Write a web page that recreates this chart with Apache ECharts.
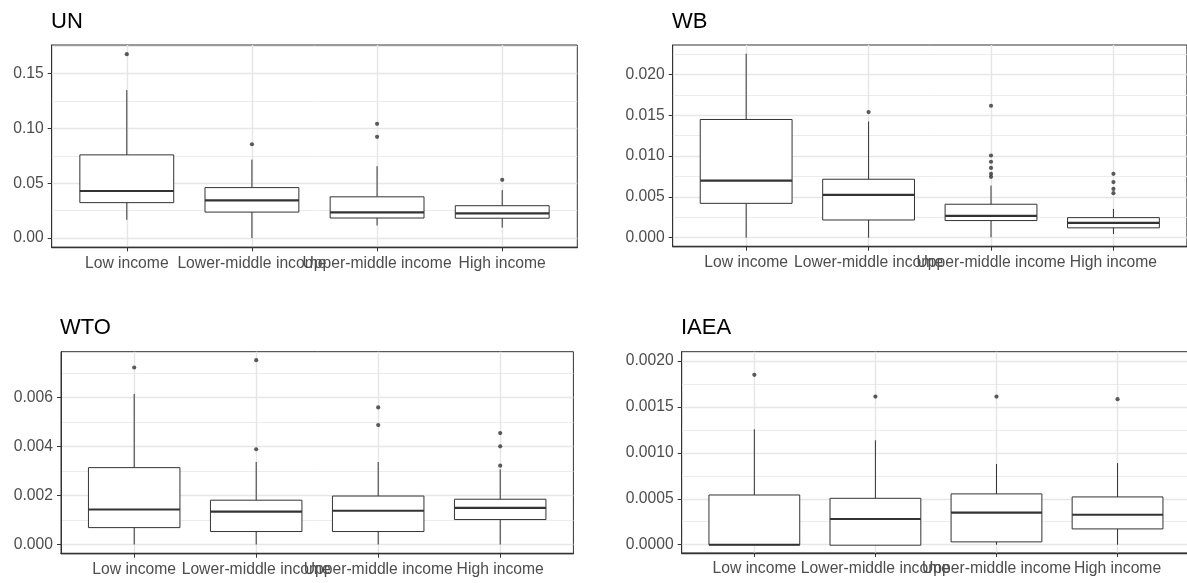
<!DOCTYPE html>
<html><head><meta charset="utf-8">
<script src="https://cdn.jsdelivr.net/npm/echarts@6/dist/echarts.min.js"></script>
<style>html,body{margin:0;padding:0;background:#fff}#c{width:1187px;height:583px}</style>
</head><body><div id="c"></div><script>
// ---------------- data ----------------
const categories = ['Low income', 'Lower-middle income', 'Upper-middle income', 'High income'];
const panelTitles = ['UN', 'WB', 'WTO', 'IAEA'];

// box statistics per category: [lower whisker, Q1, median, Q3, upper whisker]
const unStats = [
  [0.0167, 0.0323, 0.0429, 0.0758, 0.1348],
  [0.0000, 0.0237, 0.0344, 0.0460, 0.0715],
  [0.0115, 0.0183, 0.0235, 0.0376, 0.0655],
  [0.0095, 0.0181, 0.0225, 0.0295, 0.0437]
];
const unOutliers = [[0.1675], [0.0855], [0.1041, 0.0922], [0.0531]];

const wbStats = [
  [0.0000, 0.00421, 0.00700, 0.01448, 0.02254],
  [0.0000, 0.00217, 0.00524, 0.00716, 0.01423],
  [0.00005, 0.00210, 0.00268, 0.00410, 0.00638],
  [0.00045, 0.00121, 0.00182, 0.00246, 0.00353]
];
const wbOutliers = [[], [0.01538], [0.01616, 0.01007, 0.00930, 0.00855, 0.00783, 0.00746], [0.00783, 0.00682, 0.00598, 0.00545]];

const wtoStats = [
  [0.0000, 0.00069, 0.00143, 0.00314, 0.00615],
  [0.0000, 0.00053, 0.00134, 0.00181, 0.00337],
  [0.0000, 0.00053, 0.00138, 0.00198, 0.00337],
  [0.0000, 0.00102, 0.00150, 0.00185, 0.00307]
];
const wtoOutliers = [[0.00723], [0.00753, 0.00389], [0.00560, 0.00488], [0.00455, 0.00401, 0.00322]];

const iaeaStats = [
  [0.0000, 0.0000, 0.0000, 0.000541, 0.001256],
  [-0.000005, -0.000005, 0.000280, 0.000505, 0.001136],
  [0.0000, 0.000031, 0.000350, 0.000553, 0.000878],
  [0.0000, 0.000172, 0.000326, 0.000520, 0.000888]
];
const iaeaOutliers = [[0.001848], [0.001612], [0.001612], [0.001583]];

// y tick labels
const unTicks = [0, 0.05, 0.10, 0.15];
const wbTicks = [0, 0.005, 0.010, 0.015, 0.020];
const wtoTicks = [0, 0.002, 0.004, 0.006];
const iaeaTicks = [0, 0.0005, 0.0010, 0.0015, 0.0020];
const tickDecimals = [2, 3, 3, 4];
const tickSteps = [0.05, 0.005, 0.002, 0.0005];
// y axis limits (data range + 5% expansion)
const yLimits = [[-0.008375, 0.175875], [-0.0011, 0.0236], [-0.000375, 0.007875], [-0.00009, 0.0021]];

// ---------------- layout / style ----------------
const layouts = [
  {left: 51.7, top: 45, width: 525.6, height: 202.3, titleLeft: 51, titleTop: 11},
  {left: 672.7, top: 45, width: 514.2, height: 201.7, titleLeft: 672, titleTop: 11},
  {left: 61, top: 351.7, width: 512.4, height: 202, titleLeft: 60, titleTop: 317},
  {left: 681.7, top: 351.7, width: 508.5, height: 201.3, titleLeft: 681, titleTop: 317}
];
const FONT = '"Liberation Sans", Arial, sans-serif';
const statsAll = [unStats, wbStats, wtoStats, iaeaStats];
const outAll = [unOutliers, wbOutliers, wtoOutliers, iaeaOutliers];
const ticksAll = [unTicks, wbTicks, wtoTicks, iaeaTicks];
const catPos = categories.map((c, i) => i + 1);

const grids = [], xAxes = [], yAxes = [], series = [], titles = [];
for (let p = 0; p < 4; p++) {
  const L = layouts[p];
  grids.push({left: L.left, top: L.top, width: L.width, height: L.height, show: true,
    backgroundColor: '#fff', borderColor: '#333', borderWidth: 1, outerBoundsMode: 'none', containLabel: false});
  titles.push({text: panelTitles[p], left: L.titleLeft, top: L.titleTop, padding: 0,
    textStyle: {fontFamily: FONT, fontSize: 22, fontWeight: 'normal', color: '#000'}});
  xAxes.push({type: 'value', gridIndex: p, min: 0.4, max: 4.6, minInterval: 1, maxInterval: 1,
    axisLine: {show: true, onZero: false, lineStyle: {color: '#333', width: 1.4}},
    axisTick: {show: true, length: 4, customValues: catPos, lineStyle: {color: '#333', width: 1}},
    axisLabel: {show: true, customValues: catPos, margin: 8, fontFamily: FONT, fontSize: 15.7, color: '#4d4d4d',
      formatter: v => categories[Math.round(v) - 1] || ''},
    splitLine: {show: true, lineStyle: {color: '#e6e6e6', width: 1.4}},
    minorSplitLine: {show: false}
  });
  const dec = tickDecimals[p];
  yAxes.push({type: 'value', gridIndex: p, min: yLimits[p][0], max: yLimits[p][1],
    minInterval: tickSteps[p], maxInterval: tickSteps[p],
    axisLine: {show: true, onZero: false, lineStyle: {color: '#333', width: 1}},
    axisTick: {show: true, length: 4, customValues: ticksAll[p], lineStyle: {color: '#333', width: 1}},
    axisLabel: {show: true, customValues: ticksAll[p], margin: 8, fontFamily: FONT, fontSize: 15.7, color: '#4d4d4d',
      formatter: v => Number(v).toFixed(dec)},
    splitLine: {show: true, lineStyle: {color: '#e6e6e6', width: 1.4}},
    minorTick: {show: false, splitNumber: 2},
    minorSplitLine: {show: true, lineStyle: {color: '#ececec', width: 1}}
  });
  series.push({
    type: 'custom', xAxisIndex: p, yAxisIndex: p, z: 3,
    data: statsAll[p].map((s, j) => [catPos[j]].concat(s)),
    encode: {x: 0, y: [1, 2, 3, 4, 5]},
    renderItem: (params, api) => {
      const x = api.value(0);
      const lo = api.coord([x, api.value(1)]);
      const q1 = api.coord([x, api.value(2)]);
      const md = api.coord([x, api.value(3)]);
      const q3 = api.coord([x, api.value(4)]);
      const hi = api.coord([x, api.value(5)]);
      const w = api.size([0.75, 0])[0];
      const st = {stroke: '#333', lineWidth: 1, fill: null};
      return {type: 'group', children: [
        {type: 'line', shape: {x1: hi[0], y1: hi[1], x2: q3[0], y2: q3[1]}, style: st},
        {type: 'line', shape: {x1: q1[0], y1: q1[1], x2: lo[0], y2: lo[1]}, style: st},
        {type: 'rect', shape: {x: q3[0] - w / 2, y: q3[1], width: w, height: q1[1] - q3[1]},
          style: {fill: '#fff', stroke: '#333', lineWidth: 1}},
        {type: 'line', shape: {x1: md[0] - w / 2, y1: md[1], x2: md[0] + w / 2, y2: md[1]},
          style: {stroke: '#333', lineWidth: 2.2}}
      ]};
    }
  });
  const pts = [];
  outAll[p].forEach((arr, j) => arr.forEach(v => pts.push([catPos[j], v])));
  series.push({type: 'scatter', xAxisIndex: p, yAxisIndex: p, z: 4, data: pts,
    symbol: 'circle', symbolSize: 4.2, itemStyle: {color: '#333'}, silent: true});
}

const chart = echarts.init(document.getElementById('c'), null, {renderer: 'canvas'});
chart.setOption({
  animation: false,
  backgroundColor: '#fff',
  title: titles,
  grid: grids,
  xAxis: xAxes,
  yAxis: yAxes,
  series: series
});
</script></body></html>
